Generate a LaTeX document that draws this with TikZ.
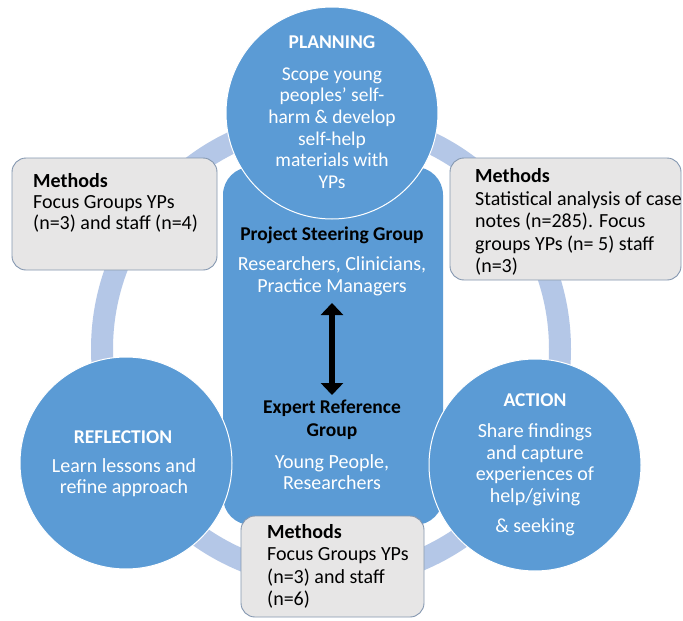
\documentclass[tikz,border=0pt]{standalone}
\usepackage{fontspec}
\setmainfont{Carlito}
\usetikzlibrary{arrows.meta}
\definecolor{cblue}{HTML}{5B9BD5}
\definecolor{ringblue}{HTML}{B4C7E7}
\definecolor{boxgray}{HTML}{E7E6E6}
\definecolor{boxline}{HTML}{8497B0}
\begin{document}
\begin{tikzpicture}[x=1pt,y=-1pt,
  phase/.style={circle, fill=cblue, draw=white, line width=1pt, minimum size=212pt, inner sep=0pt},
  methodbox/.style={rectangle, rounded corners=14pt, fill=boxgray, draw=boxline, line width=0.9pt, inner sep=0pt},
  wtext/.style={text=white, align=center, inner sep=0pt, font=\fontsize{20}{21.6}\selectfont},
  wtitle/.style={text=white, inner sep=0pt, font=\bfseries\fontsize{19.5}{22}\selectfont},
  ktitle/.style={text=black, align=center, inner sep=0pt, font=\bfseries\fontsize{19.5}{23}\selectfont},
  btext/.style={text=black, align=left, inner sep=0pt, anchor=west, font=\fontsize{20}{22.5}\selectfont},
  bigarrow/.style={{Triangle[width=22pt,length=12pt]}-{Triangle[width=22pt,length=12pt]}, line width=6pt, black}
]
\useasboundingbox (0,0) rectangle (683,621);
\fill[white] (0,0) rectangle (683,621);
% cycle ring
\draw[ringblue, line width=22pt] (331,349) circle[radius=229];
% central group panel
\node[rectangle, rounded corners=28pt, fill=cblue, minimum width=220pt, minimum height=358pt, inner sep=0pt] (core) at (333,346) {};
% phases
\node[phase] (plan) at (332,113) {};
\node[phase] (refl) at (126,463) {};
\node[phase] (act) at (535,465) {};
% method boxes
\node[methodbox, minimum width=205pt, minimum height=112pt] (mleft) at (114.5,214) {};
\node[methodbox, minimum width=231pt, minimum height=122pt] (mright) at (565.5,219) {};
\node[methodbox, minimum width=183pt, minimum height=101pt] (mbot) at (332.5,566.5) {};
% planning text
\node[wtitle] (plant) at (332,42) {PLANNING};
\node[wtext, font=\fontsize{19.5}{21.6}\selectfont] (planb) at (332,128) {Scope young\\peoples’ self-\\harm \& develop\\self-help\\materials with\\YPs};
% reflection text
\node[wtitle] (reflt) at (123,437) {REFLECTION};
\node[wtext] (reflb) at (124,477.5) {Learn lessons and\\refine approach};
% action text
\node[wtitle] (actt) at (535,400) {ACTION};
\node[wtext] (actb) at (535,480) {Share findings\\and capture\\experiences of\\help/giving\\[9pt]\& seeking};
% centre texts
\node[ktitle] (steer) at (332,235) {Project Steering Group};
\node[wtext] (steerb) at (332,276) {Researchers, Clinicians,\\Practice Managers};
\node[ktitle] (expert) at (332,419.5) {Expert Reference\\Group};
\node[wtext] (expertb) at (332,472) {Young People,\\Researchers};
\coordinate (atop) at (332,303);
\coordinate (abot) at (332,395);
\draw[bigarrow] (atop) -- (abot);
% method texts
\node[btext, font=\fontsize{20}{21}\selectfont] (mleftt) at (33,203) {\textbf{Methods}\\Focus Groups YPs\\(n=3) and staff (n=4)};
\node[btext] (mrightt) at (475,222) {\textbf{Methods}\\Statistical analysis of case\\notes (n=285). Focus\\groups YPs (n= 5) staff\\(n=3)};
\node[btext] (mbott) at (267,566.5) {\textbf{Methods}\\Focus Groups YPs\\(n=3) and staff\\(n=6)};
\end{tikzpicture}
\end{document}
